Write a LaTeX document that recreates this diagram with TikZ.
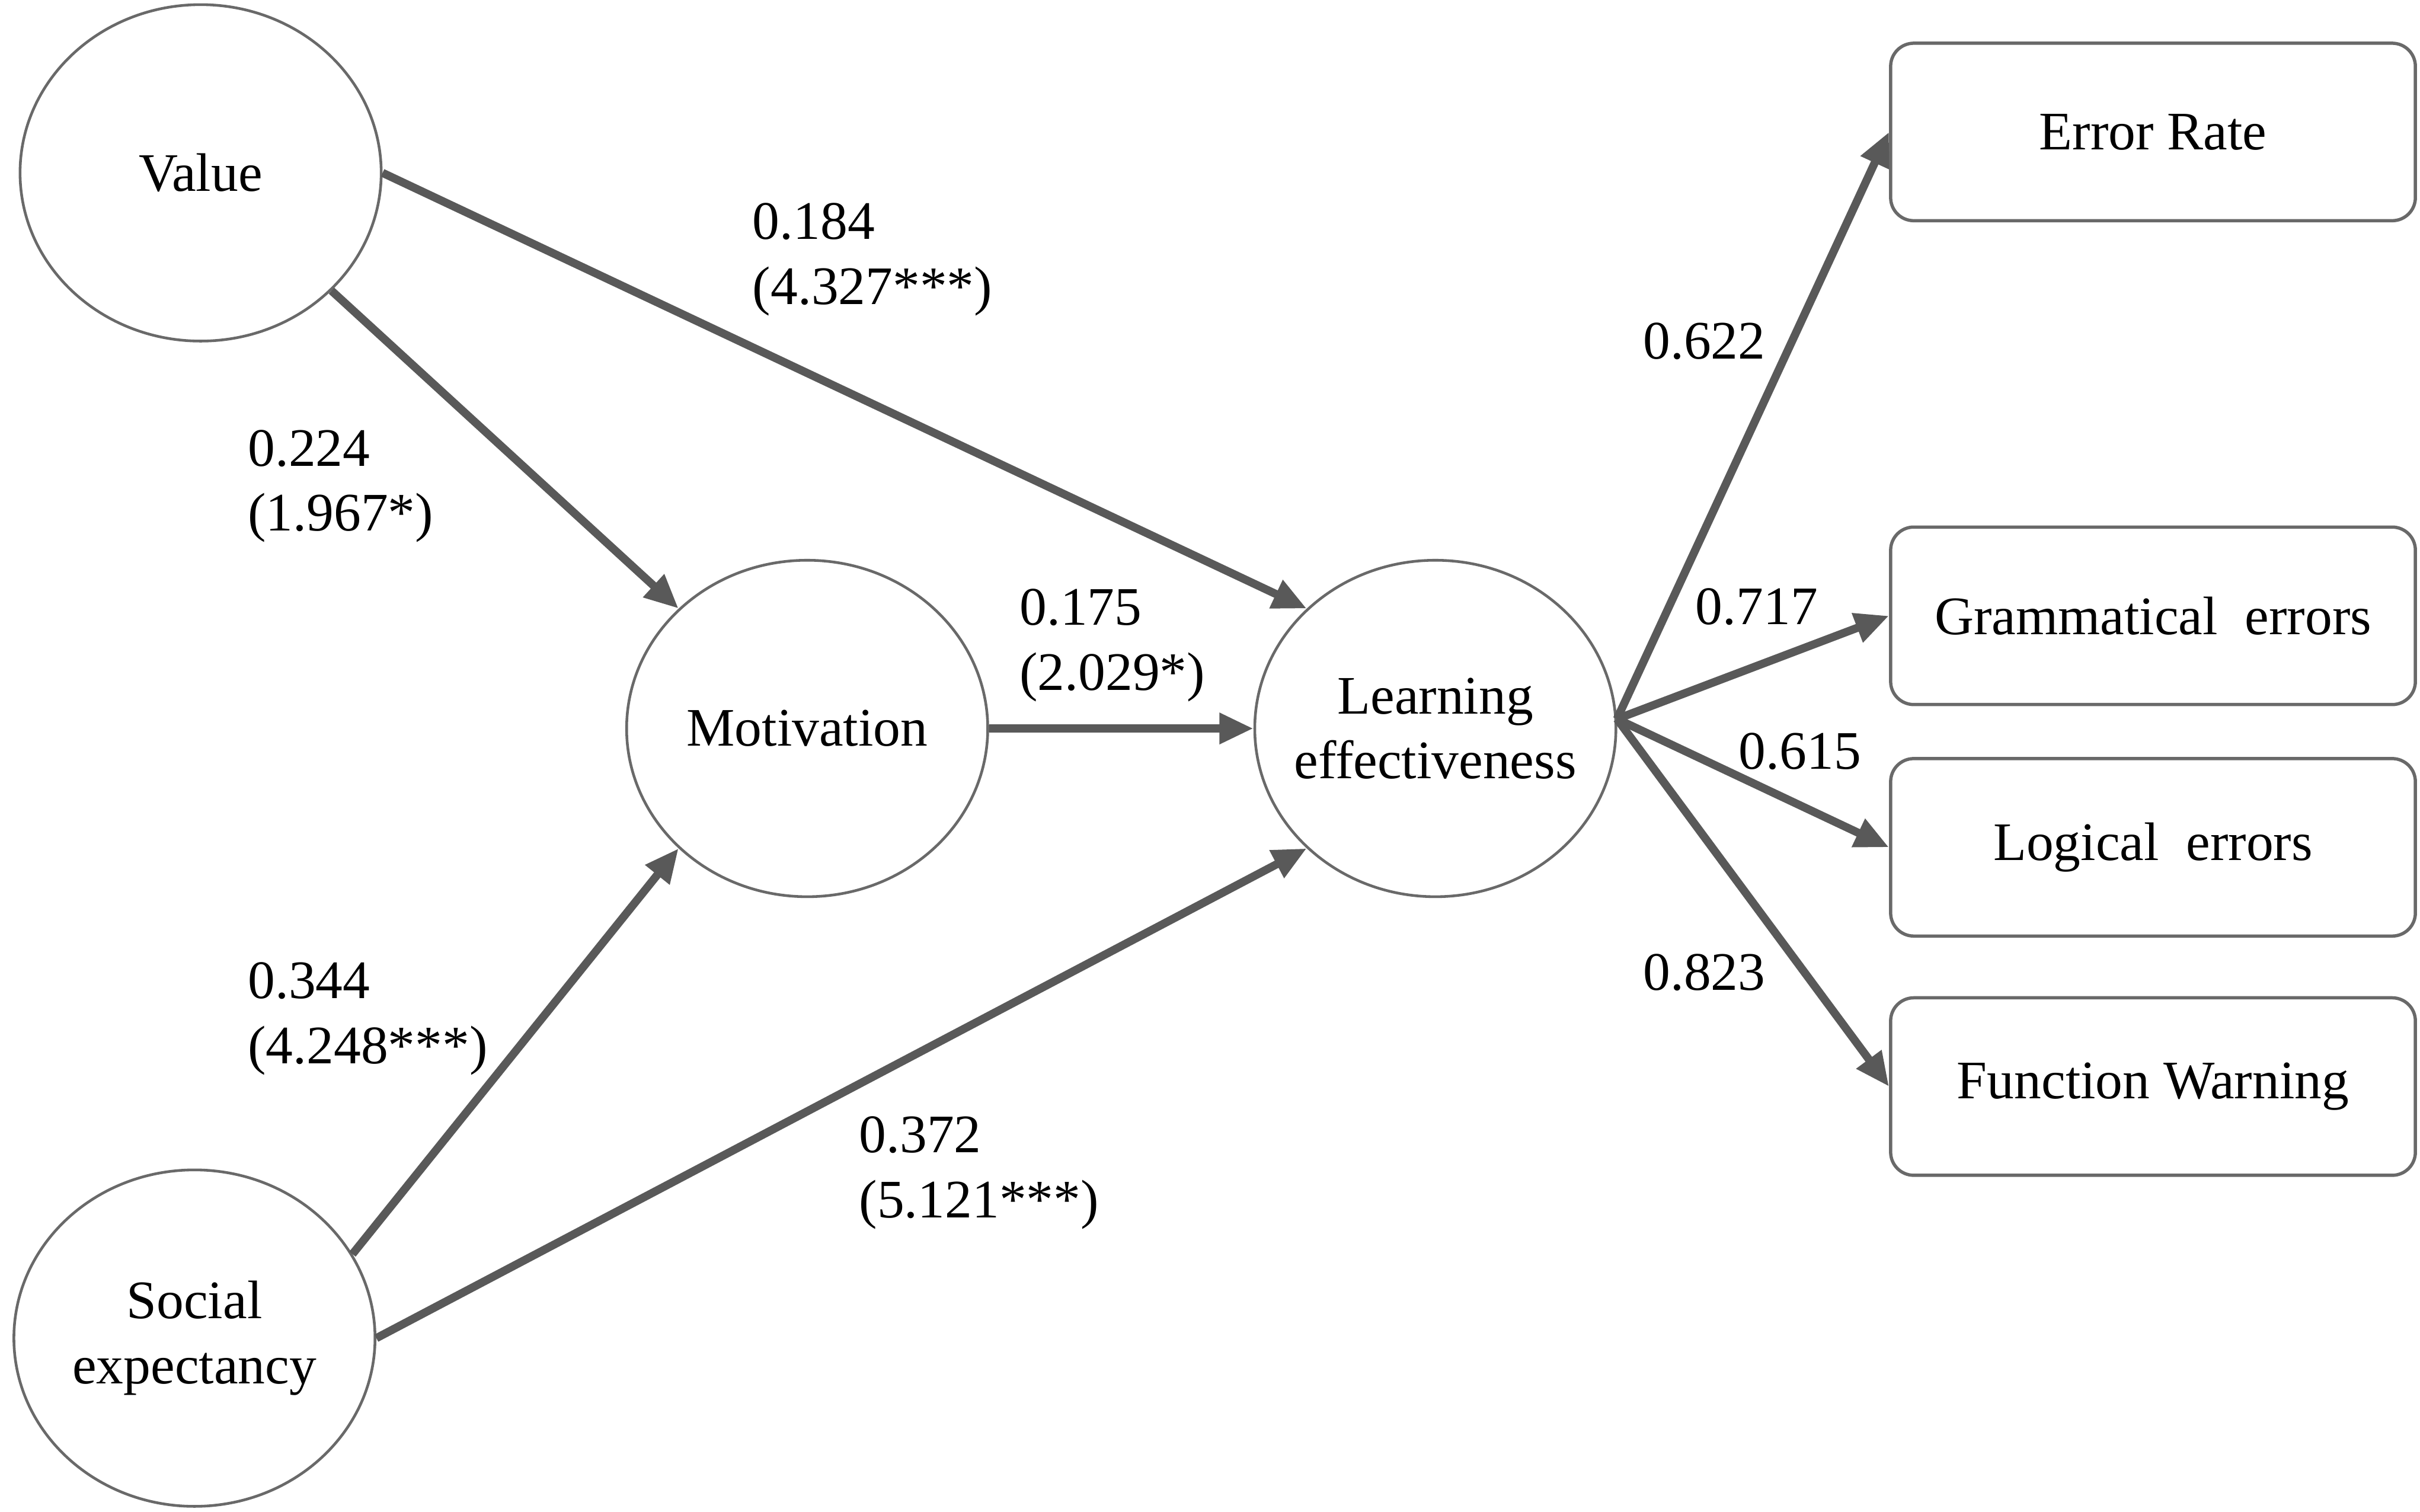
\documentclass[tikz,border=0pt]{standalone}
\usepackage{fontspec}
\setmainfont{Liberation Serif}
\usetikzlibrary{shapes.geometric, arrows.meta}

\definecolor{linkgray}{RGB}{89,89,89}
\definecolor{rimgray}{RGB}{105,105,105}

\begin{document}
\begin{tikzpicture}[x=0.1mm, y=-0.1mm,
    every node/.style={font=\fontsize{10}{12}\selectfont},
    latent/.style={ellipse, draw=rimgray, line width=0.5pt, minimum width=23.4mm,
        minimum height=21.8mm, inner xsep=-1.5mm, inner ysep=0pt, align=center},
    indicator/.style={rectangle, rounded corners=1.5mm, draw=rimgray, line width=0.6pt,
        minimum width=34mm, minimum height=11.5mm},
    link/.style={draw=linkgray, line width=1.5pt, -{Triangle[length=2.2mm, width=1.9mm]}},
    coef/.style={anchor=west, inner sep=0pt, align=left}]

    \useasboundingbox (0,0) rectangle (1568,979.3);

    \node[latent] (V) at (130,112) {Value};
    \node[latent] (M) at (523,472) {Motivation};
    \node[latent] (L) at (930,472) {Learning\\effectiveness};
    \node[latent] (S) at (126,867) {Social\\expectancy};

    \node[indicator] (ER) at (1395,85.5) {Error Rate};
    \node[indicator] (GE) at (1395,399) {Grammatical~ errors};
    \node[indicator] (LE) at (1395,549) {Logical~ errors};
    \node[indicator] (FW) at (1395,704) {Function Warning};

    \draw[link] (V.east) -- (L.137);
    \draw[link] (V.-42) -- (M.137);
    \draw[link] (M.east) -- (L.west);
    \draw[link] (S.28) -- (M.223);
    \draw[link] (S.east) -- (L.223);

    \draw[link] (L.3) -- (ER.west);
    \draw[link] (L.3) -- (GE.west);
    \draw[link] (L.3) -- (LE.west);
    \draw[link] (L.3) -- (FW.west);

    \node[coef] at (487,168) {0.184\\(4.327***)};
    \node[coef] at (160,315) {0.224\\(1.967*)};
    \node[coef] at (660,418) {0.175\\(2.029*)};
    \node[coef] at (160,660) {0.344\\(4.248***)};
    \node[coef] at (556,760) {0.372\\(5.121***)};

    \node[coef] at (1064,221) {0.622};
    \node[coef] at (1098,393) {0.717};
    \node[coef] at (1126,487) {0.615};
    \node[coef] at (1064,630) {0.823};

\end{tikzpicture}
\end{document}
